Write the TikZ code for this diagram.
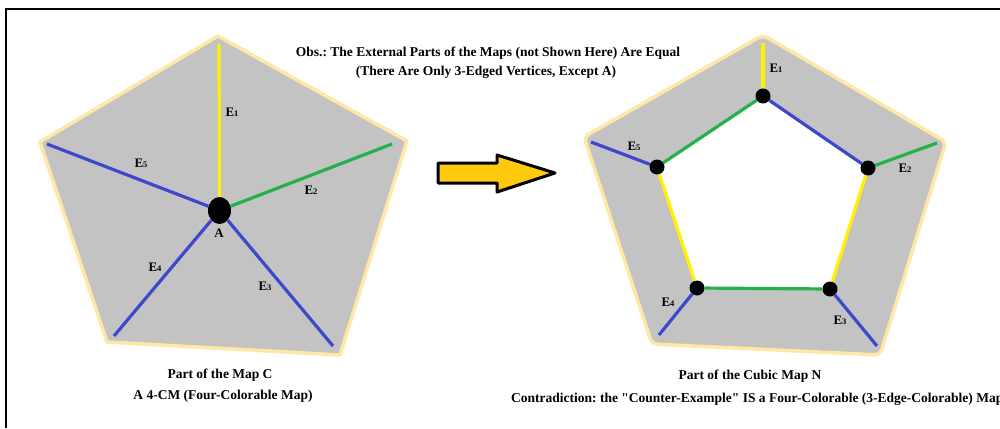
\documentclass[tikz,border=0pt]{standalone}
\usepackage{fontspec}
\setmainfont{Liberation Serif}[Ligatures=TeXOff]
\usetikzlibrary{shapes.geometric,backgrounds}
\definecolor{mapgray}{HTML}{C3C3C3}
\definecolor{rimyellow}{HTML}{FDE8A8}
\definecolor{edgeyellow}{HTML}{FFF200}
\definecolor{edgegreen}{HTML}{22B14C}
\definecolor{edgeblue}{HTML}{3F48CC}
\definecolor{arrowgold}{HTML}{FFC90E}
\newcommand{\Elab}[1]{E{\fontsize{8.5}{8.5}\selectfont #1}}
\begin{document}
\begin{tikzpicture}[x=1pt,y=-1pt,
  face/.style={fill=mapgray,draw=rimyellow,line width=3.5pt,line join=round},
  edge/.style={line width=3.2pt},
  vertex/.style={circle,fill=black,inner sep=0pt,minimum size=15pt},
  lab/.style={font=\bfseries\fontsize{13}{13}\selectfont,inner sep=0pt},
  txt/.style={font=\bfseries\fontsize{13.5}{13.5}\selectfont\frenchspacing,inner sep=0pt}]
  \useasboundingbox (0,0) rectangle (1000,428);
  \draw[line width=1.2pt] (6,428) -- (6,9) -- (1000,9);
  % left: part of the map C
  \draw[face] (218,36) -- (407,141) -- (340,355) -- (107,342) -- (40,142) -- cycle;
  \node[ellipse,fill=black,inner sep=0pt,minimum width=23pt,minimum height=27pt] (A) at (219.5,210.5) {};
  \coordinate (c1) at (219,44);
  \coordinate (c2) at (392,144);
  \coordinate (c3) at (333,346);
  \coordinate (c4) at (114,336);
  \coordinate (c5) at (47,144);
  \draw[edge,edgeyellow] (A) -- (c1);
  \draw[edge,edgegreen] (A) -- (c2);
  \draw[edge,edgeblue] (A) -- (c3);
  \draw[edge,edgeblue] (A) -- (c4);
  \draw[edge,edgeblue] (A) -- (c5);
  \node[lab] (lA) at (219,233) {A};
  \node[lab] (l1) at (232,112) {\Elab{1}};
  \node[lab] (l2) at (311,190) {\Elab{2}};
  \node[lab] (l3) at (265,286) {\Elab{3}};
  \node[lab] (l4) at (155,267) {\Elab{4}};
  \node[lab] (l5) at (141,163) {\Elab{5}};
  \node[txt] (capC) at (220,375) {Part of the Map C};
  \node[txt] (capC2) at (223,396) {A 4-CM (Four-Colorable Map)};
  % note on top
  \node[txt] (obs) at (488,53) {Obs.: The External Parts of the Maps (not Shown Here) Are Equal};
  \node[txt] (obs2) at (486,72) {(There Are Only 3-Edged Vertices, Except A)};
  % arrow
  \draw[fill=arrowgold,line width=3pt,line join=round]
    (438,163) -- (497,163) -- (497,155) -- (555,173) -- (497,192) -- (497,183) -- (438,183) -- cycle;
  % right: part of the cubic map N
  \node[vertex] (v1) at (763,96) {};
  \node[vertex] (v2) at (868,168) {};
  \node[vertex] (v3) at (830,289) {};
  \node[vertex] (v4) at (697,288) {};
  \node[vertex] (v5) at (657,167) {};
  \begin{pgfonlayer}{background}
    \draw[face,rounded corners=5pt] (763,35) -- (946,142) -- (880,355) -- (652,344) -- (584,137) -- cycle;
    \fill[white] (v1.center) -- (v2.center) -- (v3.center) -- (v4.center) -- (v5.center) -- cycle;
  \end{pgfonlayer}
  \coordinate (n1) at (763,43);
  \coordinate (n2) at (937,143);
  \coordinate (n3) at (877,346);
  \coordinate (n4) at (659,335);
  \coordinate (n5) at (591,142);
  \draw[edge,edgeyellow] (v1) -- (n1);
  \draw[edge,edgegreen] (v2) -- (n2);
  \draw[edge,edgeblue] (v3) -- (n3);
  \draw[edge,edgeblue] (v4) -- (n4);
  \draw[edge,edgeblue] (v5) -- (n5);
  \draw[edge,edgeblue] (v1) -- (v2);
  \draw[edge,edgeyellow] (v2) -- (v3);
  \draw[edge,edgegreen] (v3) -- (v4);
  \draw[edge,edgeyellow] (v4) -- (v5);
  \draw[edge,edgegreen] (v5) -- (v1);
  \node[lab] (m1) at (776,68) {\Elab{1}};
  \node[lab] (m2) at (905,168) {\Elab{2}};
  \node[lab] (m3) at (840,320) {\Elab{3}};
  \node[lab] (m4) at (668,302) {\Elab{4}};
  \node[lab] (m5) at (634,146) {\Elab{5}};
  \node[txt] (capN) at (750,376) {Part of the Cubic Map N};
  \node[txt,anchor=west] (capN2) at (511,399) {Contradiction: the "Counter-Example" IS a Four-Colorable (3-Edge-Colorable) Map};
\end{tikzpicture}
\end{document}
